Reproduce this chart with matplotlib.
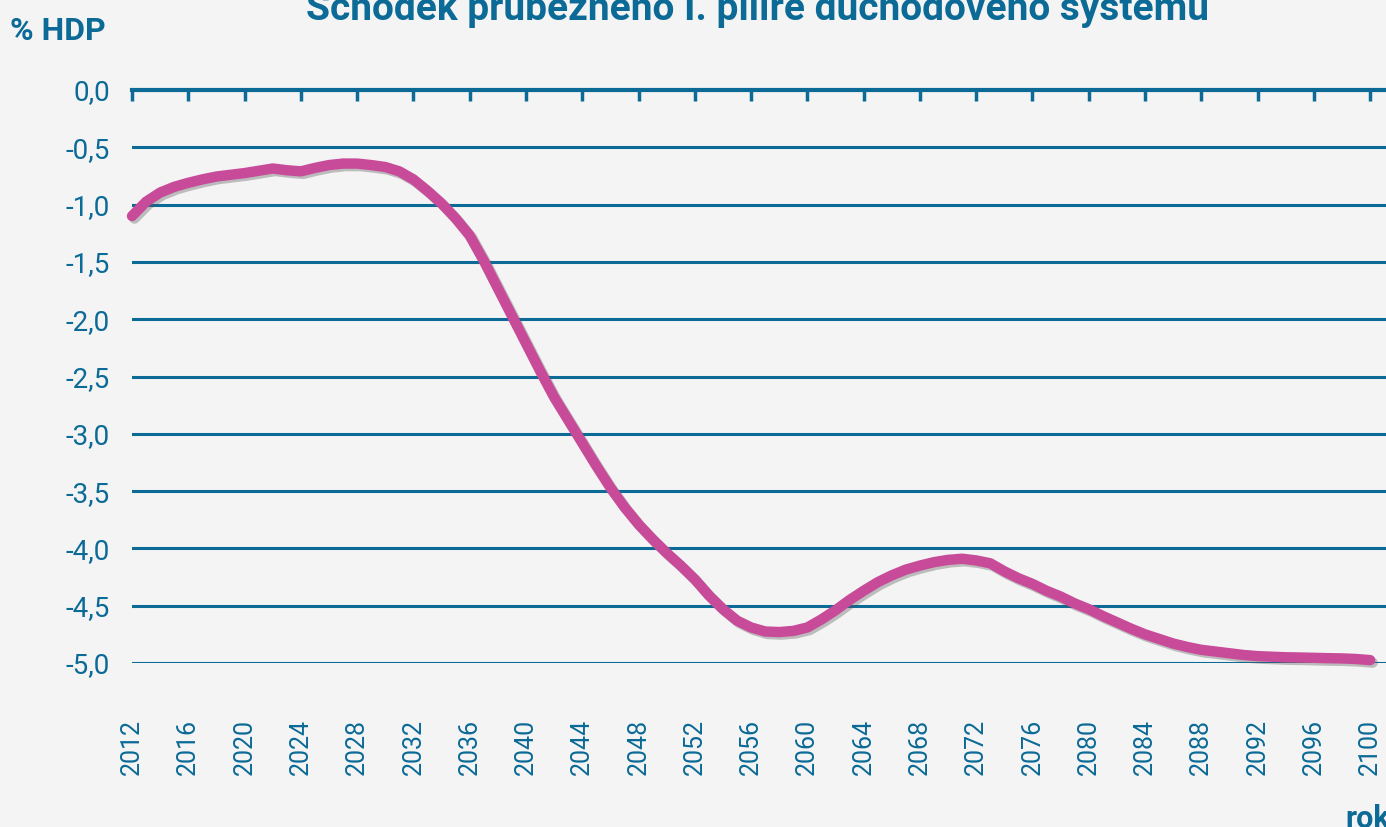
import matplotlib
matplotlib.use("Agg")
import matplotlib.pyplot as plt
import matplotlib.patheffects as pe
from matplotlib.ticker import FuncFormatter

# data (% HDP), one value per year 2012-2100
years = list(range(2012, 2101))
deficit = [-1.10, -0.975, -0.895, -0.845, -0.81, -0.78, -0.755, -0.74, -0.725, -0.705,
           -0.685, -0.70, -0.71, -0.68, -0.655, -0.642, -0.642, -0.655, -0.672, -0.71,
           -0.78, -0.88, -0.99, -1.12, -1.27, -1.49, -1.73, -1.97, -2.21, -2.45,
           -2.68, -2.88, -3.08, -3.28, -3.47, -3.64, -3.79, -3.92, -4.04, -4.15,
           -4.27, -4.41, -4.53, -4.63, -4.69, -4.725, -4.73, -4.72, -4.69, -4.62,
           -4.54, -4.45, -4.37, -4.295, -4.235, -4.185, -4.15, -4.12, -4.10, -4.09,
           -4.105, -4.13, -4.20, -4.26, -4.31, -4.37, -4.42, -4.48, -4.53, -4.59,
           -4.645, -4.70, -4.75, -4.79, -4.83, -4.86, -4.885, -4.90, -4.915, -4.93,
           -4.94, -4.945, -4.95, -4.952, -4.955, -4.958, -4.96, -4.965, -4.975]
xticks = list(range(2012, 2101, 4))
yticks = [0, -0.5, -1.0, -1.5, -2.0, -2.5, -3.0, -3.5, -4.0, -4.5, -5.0]

blue = '#0b6a96'
pink = '#c84b9a'
bg = '#f4f4f4'
plt.rcParams['font.family'] = ['Roboto', 'DejaVu Sans']

fig = plt.figure(figsize=(13.86, 8.27), dpi=100, facecolor=bg)
W, H = 1386, 827
ax = fig.add_axes([132 / W, (H - 663) / H, (W - 132) / W, (663 - 90) / H])
ax.set_facecolor(bg)

for v in yticks[1:]:
    ax.axhline(v, color=blue, lw=2.2, zorder=1)

ax.plot(years, deficit, color=pink, lw=7.5, solid_capstyle='round', solid_joinstyle='round',
        clip_on=False, zorder=3,
        path_effects=[pe.SimpleLineShadow(offset=(1.8, -1.8), shadow_color='#555555', alpha=0.35),
                      pe.Normal()])

ax.set_xlim(2012, 2012 + (W - 132) / 14.07)
ax.set_ylim(-5, 0)

for s in ['left', 'right', 'bottom']:
    ax.spines[s].set_visible(False)
ax.spines['top'].set_color(blue)
ax.spines['top'].set_linewidth(3)

ax.set_xticks(xticks)
ax.tick_params(axis='x', top=True, bottom=False, direction='in', length=8, width=2.5,
               color=blue, labelbottom=True, labelrotation=90, labelsize=18,
               labelcolor=blue, pad=40)
ax.set_yticks(yticks)
ax.yaxis.set_major_formatter(FuncFormatter(lambda v, p: f'{v:.1f}'.replace('.', ',')))
ax.tick_params(axis='y', length=0, labelsize=20, labelcolor=blue, pad=16)

fig.text(758 / W, (H - 20) / H, 'Schodek průběžného I. pilíře důchodového systému',
         ha='center', va='baseline', fontsize=28, fontweight='bold', color=blue)
fig.text(10 / W, (H - 40) / H, '% HDP', ha='left', va='baseline', fontsize=23,
         fontweight='bold', color=blue)
fig.text(1345 / W, (H - 828) / H, 'rok', ha='left', va='baseline', fontsize=22,
         fontweight='bold', color=blue)

fig.savefig('out.png', dpi=100, facecolor=bg)
